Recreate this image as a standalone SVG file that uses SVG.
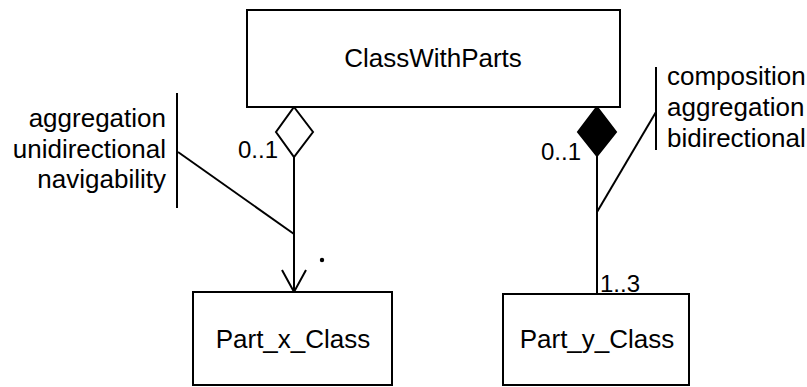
<svg xmlns="http://www.w3.org/2000/svg" width="807" height="387" viewBox="0 0 807 387">
<style>
.box{fill:#fff;stroke:#000;stroke-width:2}
.ln{fill:none;stroke:#000;stroke-width:2}
text{font-family:"Liberation Sans",Arial,sans-serif;font-size:26px;fill:#000}
.m{font-size:24px}
.c{text-anchor:middle}
.r{text-anchor:end}
</style>
<rect width="807" height="387" fill="#fff"/>
<g id="connectors">
<polygon class="ln" points="294,107 313,132 294,157 276,132" fill="#fff"/>
<line class="ln" x1="294" y1="157" x2="294" y2="292"/>
<polyline class="ln" points="282,270 294,292 306,270"/>
<polygon points="597,107 616,132 597,156 578,132" fill="#000" stroke="#000" stroke-width="2"/>
<line class="ln" x1="597" y1="156" x2="597" y2="294"/>
<text class="r m" x="278" y="158">0..1</text>
<text class="r m" x="581" y="160">0..1</text>
<text class="m" x="600" y="292">1..3</text>
<circle cx="322" cy="260" r="2.2" fill="#000"/>
</g>
<g id="note-left">
<line class="ln" x1="177" y1="93" x2="177" y2="208"/>
<line class="ln" x1="178" y1="152" x2="294" y2="234"/>
<text class="r" x="166" y="127">aggregation</text>
<text class="r" x="166" y="158">unidirectional</text>
<text class="r" x="166" y="188">navigability</text>
</g>
<g id="note-right">
<line class="ln" x1="656" y1="67" x2="656" y2="150"/>
<line class="ln" x1="656" y1="112" x2="597" y2="212"/>
<text x="667" y="85">composition</text>
<text x="667" y="116">aggregation</text>
<text x="667" y="147">bidirectional</text>
</g>
<g id="ClassWithParts">
<rect class="box" x="247" y="10" width="373" height="97"/>
<text class="c" x="433" y="67">ClassWithParts</text>
</g>
<g id="Part_x_Class">
<rect class="box" x="193" y="292" width="199" height="93"/>
<text class="c" x="293" y="348">Part_x_Class</text>
</g>
<g id="Part_y_Class">
<rect class="box" x="503" y="294" width="186" height="91"/>
<text class="c" x="597" y="348">Part_y_Class</text>
</g>
</svg>
